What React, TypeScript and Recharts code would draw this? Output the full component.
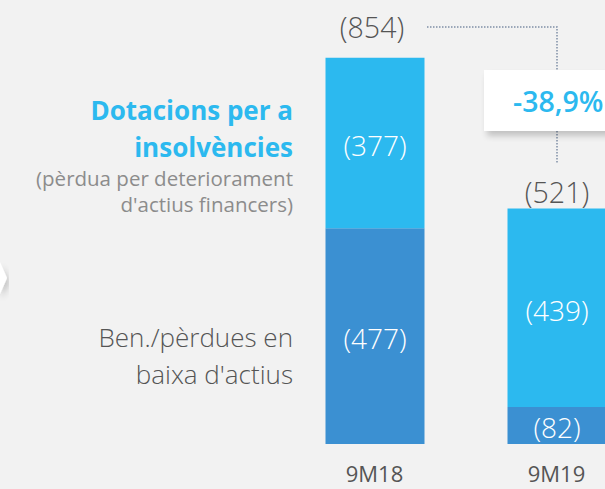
import React from 'react';
import { BarChart, Bar, XAxis, YAxis, LabelList } from 'recharts';

const periods = ['9M18', '9M19'];
const baixaActius = [477, 82];
const dotacions = [377, 439];
const totals = [854, 521];
const change = '-38,9%';

const data = periods.map((p, i) => ({
  period: p,
  baixa: baixaActius[i],
  dotacions: dotacions[i],
  total: totals[i],
}));

const FONT = '"Open Sans", "Noto Sans", sans-serif';
const LIGHT = '#2cb9ef';
const DARK = '#3b90d2';
const TEXT = '#555555';
const totalGap = [31, 16];

const inBarLabel = (props: any) => {
  const { x, y, width, height, value } = props;
  return (
    <text
      x={x + width / 2}
      y={y + height / 2 + 2}
      textAnchor="middle"
      dominantBaseline="central"
      fill="#ffffff"
      fontSize={28}
      fontWeight={300}
      fontFamily={FONT}
    >
      ({value})
    </text>
  );
};

const totalLabel = (props: any) => {
  const { x, y, width, value, index } = props;
  const gap = totalGap[index ?? 0] ?? 20;
  return (
    <text
      x={x + width / 2 - (index === 0 ? 3 : 0)}
      y={y - gap}
      textAnchor="middle"
      dominantBaseline="central"
      fill={TEXT}
      fontSize={28.5}
      fontWeight={300}
      fontFamily={FONT}
    >
      ({value})
    </text>
  );
};

const periodTick = (props: any) => {
  const { x, payload } = props;
  return (
    <text x={x} y={482} textAnchor="middle" fill={TEXT} fontSize={22} fontFamily={FONT}>
      {payload.value}
    </text>
  );
};

const App: React.FC = () => {
  return (
    <div
      style={{
        position: 'fixed',
        left: 0,
        top: 0,
        width: 605,
        height: 489,
        overflow: 'hidden',
        background: '#f2f2f2',
      }}
    >
      <svg width={605} height={489} style={{ position: 'absolute', left: 0, top: 0 }}>
        <defs>
          <filter id="shadow" x="-20%" y="-20%" width="140%" height="160%">
            <feGaussianBlur in="SourceAlpha" stdDeviation="3" />
            <feOffset dx="2" dy="4" result="b" />
            <feComponentTransfer>
              <feFuncA type="linear" slope="0.25" />
            </feComponentTransfer>
            <feMerge>
              <feMergeNode />
              <feMergeNode in="SourceGraphic" />
            </feMerge>
          </filter>
        </defs>
        <polygon points="0,262 7,278 0,294" fill="#ffffff" filter="url(#shadow)" />
        <g fontFamily={FONT} textAnchor="end">
          <text x={293} y={120} fill={LIGHT} fontSize={26} fontWeight={700}>Dotacions per a</text>
          <text x={293} y={157} fill={LIGHT} fontSize={26} fontWeight={700}>insolvències</text>
          <text x={293} y={186} fill="#8c8c8c" fontSize={20.5}>(pèrdua per deteriorament</text>
          <text x={293} y={212} fill="#8c8c8c" fontSize={20.5}>d'actius financers)</text>
          <text x={293} y={347} fill={TEXT} fontSize={26} fontWeight={300}>Ben./pèrdues en</text>
          <text x={293} y={384} fill={TEXT} fontSize={26} fontWeight={300}>baixa d'actius</text>
        </g>
      </svg>
      <div style={{ position: 'absolute', left: 0, top: 0 }}>
        <BarChart
          width={660}
          height={489}
          data={data}
          margin={{ top: 37, right: 12.5, left: 283.5, bottom: 0 }}
          barSize={99}
        >
          <XAxis
            dataKey="period"
            axisLine={false}
            tickLine={false}
            tick={periodTick}
            interval={0}
            height={45}
          />
          <YAxis hide domain={[0, 900]} />
          <Bar dataKey="baixa" stackId="a" fill={DARK} isAnimationActive={false}>
            <LabelList dataKey="baixa" content={inBarLabel} />
          </Bar>
          <Bar dataKey="dotacions" stackId="a" fill={LIGHT} isAnimationActive={false}>
            <LabelList dataKey="dotacions" content={inBarLabel} />
            <LabelList dataKey="total" content={totalLabel} />
          </Bar>
        </BarChart>
      </div>
      <svg width={605} height={489} style={{ position: 'absolute', left: 0, top: 0, pointerEvents: 'none' }}>
        <defs>
          <filter id="shadow2" x="-20%" y="-20%" width="140%" height="160%">
            <feGaussianBlur in="SourceAlpha" stdDeviation="3" />
            <feOffset dx="3" dy="5" result="b" />
            <feComponentTransfer>
              <feFuncA type="linear" slope="0.2" />
            </feComponentTransfer>
            <feMerge>
              <feMergeNode />
              <feMergeNode in="SourceGraphic" />
            </feMerge>
          </filter>
        </defs>
        <g stroke="#7f8fa6" strokeWidth={1.5} strokeDasharray="1.5 1.5" fill="none">
          <polyline points="427,27 557,27 557,70" />
          <line x1={557} y1={131} x2={557} y2={164} />
        </g>
        <rect x={484} y={70} width={140} height={61} fill="#ffffff" filter="url(#shadow2)" />
        <text
          x={513}
          y={101}
          dominantBaseline="central"
          fill={LIGHT}
          fontSize={28.5}
          fontWeight={600}
          fontFamily={FONT}
        >
          {change}
        </text>
      </svg>
    </div>
  );
};

export default App;
